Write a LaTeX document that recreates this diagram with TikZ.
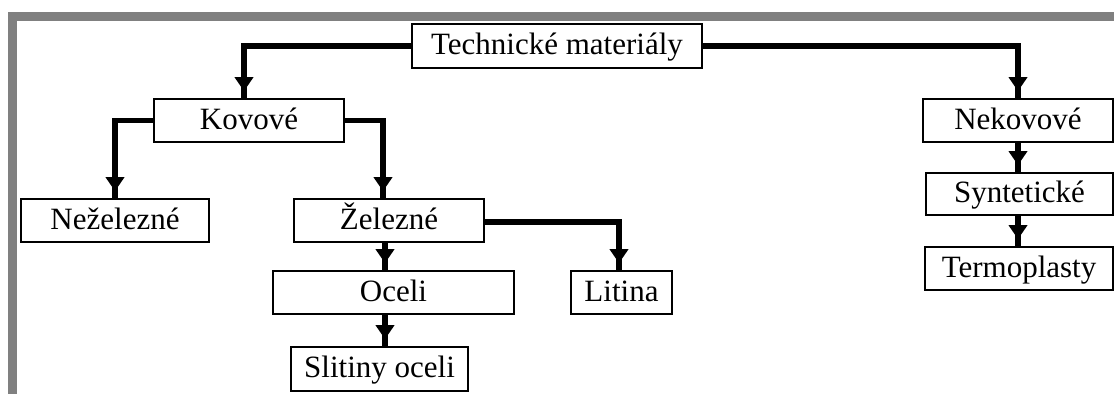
\documentclass[tikz,border=0pt]{standalone}
\usepackage{fontspec}
\setmainfont{Liberation Serif}
\usetikzlibrary{arrows.meta,decorations.markings}
\definecolor{frame}{RGB}{128,128,128}
\begin{document}
\begin{tikzpicture}[x=1pt,y=-1pt,
  box/.style={draw=black,line width=1.6pt,fill=white,inner sep=0pt,
    font=\fontsize{31}{36}\selectfont,text height=23pt,text depth=6pt},
  conn/.style={line width=5.5pt,postaction={decorate},
    decoration={markings,mark=at position -7pt with
      {\arrow{Triangle[length=14pt,width=18pt]}}}}]
\useasboundingbox (0,0) rectangle (1114,394);
\fill[white] (0,0) rectangle (1114,394);
% gray frame
\fill[frame] (8,12) rectangle (1114,21);
\fill[frame] (8,12) rectangle (17,394);
\node[box,minimum width=290pt,minimum height=44pt] (tech) at (557,46) {Technické materiály};
\node[box,minimum width=190pt,minimum height=43pt] (kov) at (249,120.5) {Kovové};
\node[box,minimum width=190pt,minimum height=43pt] (nekov) at (1018,120.5) {Nekovové};
\node[box,minimum width=187pt,minimum height=42pt] (synt) at (1019.5,194) {Syntetické};
\node[box,minimum width=188pt,minimum height=43pt] (termo) at (1019,268.5) {Termoplasty};
\node[box,minimum width=188pt,minimum height=43pt] (nezel) at (115,220.5) {Neželezné};
\node[box,minimum width=190pt,minimum height=43pt] (zel) at (389,220.5) {Železné};
\node[box,minimum width=241pt,minimum height=43pt] (oceli) at (393.5,292.5) {Oceli};
\node[box,minimum width=177pt,minimum height=44pt] (slit) at (379.5,369) {Slitiny oceli};
\node[box,minimum width=101pt,minimum height=43pt] (litina) at (621.5,292.5) {Litina};
\draw[conn] (tech.west) -| ([xshift=-5pt]kov.north);
\draw[conn] (tech.east) -| (nekov.north);
\draw[conn] (kov.west) -| (nezel.north);
\draw[conn] (kov.east) -| ([xshift=-6pt]zel.north);
\draw[conn] ([yshift=-1.5pt]zel.east) -| ([xshift=-2.5pt]litina.north);
\draw[conn] ([xshift=-4pt]zel.south) -- ([xshift=-4pt]zel.south |- oceli.north);
\draw[conn] ([xshift=5.5pt]slit.north |- oceli.south) -- ([xshift=5.5pt]slit.north);
\draw[conn] (nekov.south) -- (nekov.south |- synt.north);
\draw[conn] ([xshift=-1.5pt]synt.south) -- ([xshift=-1.5pt]synt.south |- termo.north);
\end{tikzpicture}
\end{document}
